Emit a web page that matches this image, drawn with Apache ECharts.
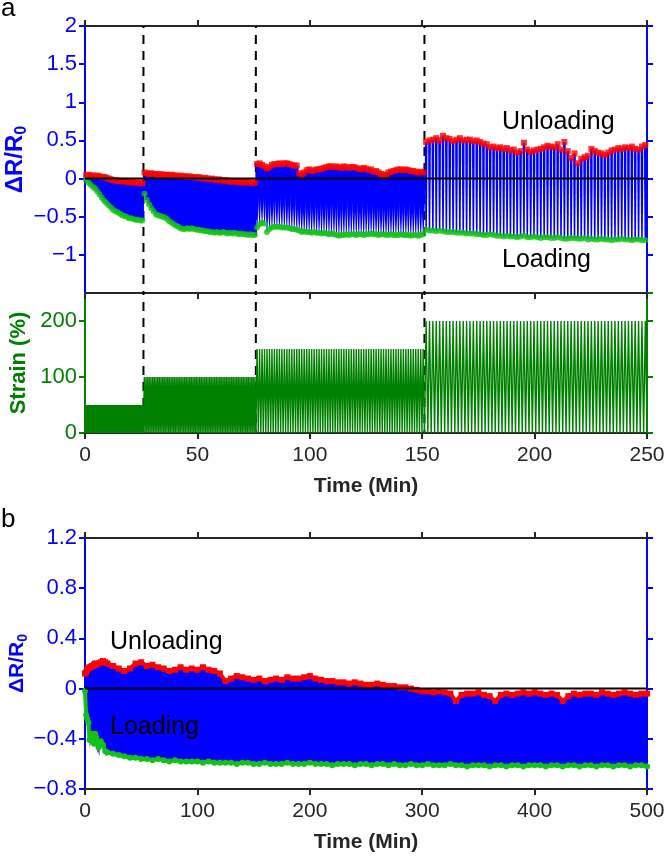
<!DOCTYPE html>
<html>
<head>
<meta charset="utf-8">
<script src="https://cdn.jsdelivr.net/npm/echarts@6/dist/echarts.min.js"></script>
<style>
html, body { margin: 0; padding: 0; background: #fff; }
#main { width: 664px; height: 856px; }
</style>
</head>
<body>
<div id="main"></div>
<script>
// ---- panel a: stages of the cyclic test ----
const stageEdges = [0, 26, 76, 151, 250];      // min
const strainLevels = [50, 100, 150, 200];      // %
const strainCycles = [70, 67, 68, 66];
const stepTimes = [26, 76, 151];

// ΔR/R0 envelopes, one sample per minute (stage 1, 2) or per cycle (stage 3, 4)
const unload1 = [0.04, 0.05, 0.04, 0.04, 0.03, 0.04, 0.03, 0.02, 0.02, 0.01, 0.0, -0.01, -0.02, -0.02, -0.03, -0.03, -0.04, -0.03, -0.04, -0.05, -0.04, -0.05, -0.05, -0.06, -0.05, -0.06];
const load1 = [-0.02, -0.05, -0.08, -0.11, -0.13, -0.17, -0.21, -0.25, -0.29, -0.32, -0.35, -0.38, -0.41, -0.43, -0.44, -0.46, -0.48, -0.49, -0.5, -0.52, -0.52, -0.53, -0.54, -0.54, -0.55, -0.55];
const unload2 = [0.08, 0.07, 0.06, 0.07, 0.06, 0.06, 0.05, 0.06, 0.05, 0.05,
  0.05, 0.04, 0.05, 0.04, 0.04, 0.03, 0.04, 0.03, 0.03, 0.02,
  0.03, 0.02, 0.02, 0.01, 0.02, 0.01, 0.0, 0.01, 0.0, -0.01,
  0.0, -0.01, -0.02, -0.01, -0.02, -0.03, -0.02, -0.03, -0.04, -0.03,
  -0.04, -0.04, -0.05, -0.04, -0.05, -0.05, -0.04, -0.05, -0.06, -0.05];
const load2 = [-0.2, -0.28, -0.34, -0.39, -0.43, -0.47, -0.48, -0.49, -0.5, -0.51,
  -0.53, -0.56, -0.58, -0.6, -0.62, -0.63, -0.65, -0.66, -0.66, -0.65,
  -0.66, -0.65, -0.66, -0.67, -0.67, -0.68, -0.68, -0.69, -0.69, -0.7,
  -0.7, -0.71, -0.7, -0.71, -0.71, -0.7, -0.71, -0.72, -0.71, -0.72,
  -0.71, -0.72, -0.73, -0.72, -0.73, -0.73, -0.74, -0.73, -0.74, -0.74];
const unload3 = [0.19, 0.2, 0.18, 0.16, 0.13, 0.15, 0.18, 0.19, 0.19, 0.2,
  0.19, 0.2, 0.2, 0.19, 0.18, 0.17, 0.17, 0.07, 0.05, 0.08,
  0.11, 0.12, 0.1, 0.11, 0.12, 0.12, 0.13, 0.14, 0.15, 0.16,
  0.16, 0.15, 0.16, 0.15, 0.14, 0.16, 0.15, 0.14, 0.15, 0.15,
  0.14, 0.13, 0.12, 0.14, 0.13, 0.11, 0.12, 0.09, 0.1, 0.08,
  0.06, 0.05, 0.05, 0.08, 0.09, 0.1, 0.11, 0.12, 0.12, 0.11,
  0.12, 0.11, 0.1, 0.1, 0.09, 0.08, 0.09, 0.08];
const load3 = [-0.64, -0.6, -0.58, -0.59, -0.7, -0.66, -0.64, -0.63, -0.63, -0.63,
  -0.64, -0.64, -0.64, -0.65, -0.66, -0.66, -0.67, -0.68, -0.7, -0.69,
  -0.7, -0.7, -0.71, -0.7, -0.71, -0.71, -0.72, -0.71, -0.72, -0.73,
  -0.72, -0.73, -0.74, -0.75, -0.74, -0.74, -0.73, -0.74, -0.73, -0.73,
  -0.74, -0.73, -0.73, -0.74, -0.73, -0.73, -0.72, -0.73, -0.73, -0.74,
  -0.73, -0.73, -0.74, -0.74, -0.73, -0.74, -0.74, -0.74, -0.73, -0.74,
  -0.74, -0.74, -0.75, -0.74, -0.74, -0.75, -0.74, -0.73];
const unload4 = [0.48, 0.5, 0.51, 0.53, 0.5, 0.56, 0.53, 0.52, 0.49, 0.51,
  0.53, 0.5, 0.51, 0.51, 0.49, 0.5, 0.48, 0.46, 0.45, 0.41,
  0.42, 0.4, 0.41, 0.39, 0.4, 0.37, 0.38, 0.34, 0.36, 0.47,
  0.38, 0.35, 0.37, 0.38, 0.39, 0.41, 0.43, 0.42, 0.41, 0.45,
  0.38, 0.48, 0.36, 0.27, 0.33, 0.2, 0.26, 0.28, 0.3, 0.39,
  0.36, 0.34, 0.33, 0.31, 0.34, 0.37, 0.38, 0.4, 0.39, 0.41,
  0.4, 0.42, 0.39, 0.38, 0.42, 0.44];
const load4 = [-0.67, -0.68, -0.68, -0.69, -0.68, -0.69, -0.7, -0.7, -0.7, -0.71,
  -0.71, -0.71, -0.72, -0.72, -0.72, -0.73, -0.73, -0.74, -0.74, -0.73,
  -0.74, -0.75, -0.75, -0.76, -0.75, -0.76, -0.76, -0.77, -0.76, -0.75,
  -0.77, -0.77, -0.76, -0.77, -0.78, -0.77, -0.77, -0.78, -0.78, -0.77,
  -0.78, -0.79, -0.79, -0.78, -0.78, -0.79, -0.79, -0.78, -0.8, -0.79,
  -0.8, -0.8, -0.79, -0.8, -0.8, -0.81, -0.8, -0.8, -0.79, -0.8,
  -0.8, -0.81, -0.8, -0.8, -0.81, -0.81];

// ---- panel b: long test at one strain ----
const timeB = [0, 1, 2, 3, 4, 5, 6, 7, 8, 9, 10, 12, 14, 16, 18, 20,
  25, 30, 35, 40, 45, 50, 55, 60, 65, 70, 75, 80, 85, 90, 95, 100,
  105, 110, 115, 120, 125, 130, 135, 140, 145, 150, 155, 160, 165, 170, 175, 180,
  185, 190, 195, 200, 205, 210, 215, 220, 225, 230, 235, 240, 245, 250, 255, 260,
  265, 270, 275, 280, 285, 290, 295, 300, 305, 310, 315, 320, 325, 330, 335, 340,
  345, 350, 355, 360, 365, 370, 375, 380, 385, 390, 395, 400, 405, 410, 415, 420,
  425, 430, 435, 440, 445, 450, 455, 460, 465, 470, 475, 480, 485, 490, 495, 500];
const unloadB = [0.12, 0.13, 0.15, 0.16, 0.17, 0.17, 0.18, 0.18, 0.19, 0.2, 0.19, 0.2, 0.21, 0.22, 0.21, 0.2,
  0.18, 0.16, 0.14, 0.16, 0.2, 0.21, 0.18, 0.19, 0.17, 0.16, 0.14, 0.15, 0.17, 0.15, 0.16, 0.15,
  0.17, 0.15, 0.14, 0.12, 0.06, 0.08, 0.1, 0.09, 0.08, 0.07, 0.08, 0.06, 0.07, 0.08, 0.07, 0.09,
  0.08, 0.08, 0.09, 0.1, 0.08, 0.07, 0.06, 0.06, 0.05, 0.05, 0.04, 0.05, 0.04, 0.03, 0.03, 0.04,
  0.03, 0.02, 0.02, 0.01, 0.01, 0.0, -0.01, -0.02, -0.02, -0.03, -0.02, -0.03, -0.04, -0.1, -0.05, -0.04,
  -0.04, -0.03, -0.05, -0.06, -0.1, -0.05, -0.04, -0.05, -0.04, -0.03, -0.04, -0.03, -0.04, -0.05, -0.04, -0.05,
  -0.1, -0.06, -0.04, -0.05, -0.04, -0.04, -0.05, -0.03, -0.04, -0.05, -0.04, -0.03, -0.04, -0.05, -0.04, -0.04];
const loadB = [-0.02, -0.21, -0.24, -0.27, -0.41, -0.4, -0.36, -0.37, -0.44, -0.36, -0.39, -0.47, -0.42, -0.45, -0.5, -0.51,
  -0.52, -0.53, -0.54, -0.55, -0.55, -0.56, -0.56, -0.57, -0.56, -0.57, -0.58, -0.57, -0.58, -0.58, -0.58, -0.58,
  -0.59, -0.58, -0.59, -0.59, -0.59, -0.59, -0.6, -0.59, -0.59, -0.6, -0.6, -0.59, -0.6, -0.6, -0.6, -0.59,
  -0.6, -0.6, -0.6, -0.59, -0.6, -0.6, -0.6, -0.61, -0.6, -0.6, -0.6, -0.61, -0.6, -0.6, -0.61, -0.6,
  -0.6, -0.61, -0.6, -0.61, -0.61, -0.6, -0.61, -0.61, -0.6, -0.61, -0.61, -0.61, -0.6, -0.61, -0.61, -0.62,
  -0.61, -0.61, -0.61, -0.62, -0.61, -0.61, -0.62, -0.61, -0.61, -0.62, -0.61, -0.61, -0.61, -0.62, -0.61, -0.61,
  -0.62, -0.61, -0.61, -0.62, -0.61, -0.61, -0.62, -0.61, -0.61, -0.62, -0.61, -0.61, -0.62, -0.61, -0.61, -0.62];

const BLUE = '#0000ff', RED = '#ff0000', LGREEN = '#14c214', DGREEN = '#008000', INK = '#262626';
const FONT = '"Liberation Sans", Arial, Helvetica, sans-serif';

// blue stroke of one sample: width at top, width at the knee, width at bottom
// (as part of the sample spacing) and where the knee sits (0 top .. 1 bottom)
const barShape = [[1, 1, 1, 0.5], [1, 1, 1, 0.5], [1, 1, 0.3, 0.45], [0.78, 0.72, 0.45, 0.4]];

const unloadA = [unload1, unload2, unload3, unload4];
const loadA = [load1, load2, load3, load4];
const rowsA = [];
for (let s = 0; s < 4; s++) {
  const n = unloadA[s].length;
  const step = (stageEdges[s + 1] - stageEdges[s]) / n;
  for (let i = 0; i < n; i++) {
    rowsA.push([stageEdges[s] + (i + 0.5) * step, unloadA[s][i], loadA[s][i], s, step]);
  }
}
const strainRows = strainLevels.map((lv, s) => [stageEdges[s], stageEdges[s + 1], lv, strainCycles[s]]);
const rowsB = [];
for (let i = 0; i < timeB.length - 1; i++) {
  rowsB.push([timeB[i], unloadB[i], loadB[i], timeB[i + 1], unloadB[i + 1], loadB[i + 1]]);
}

function cycleBar(params, api) {
  const t = api.value(0), s = api.value(3), step = api.value(4);
  const top = api.coord([t, api.value(1)]);
  const bot = api.coord([t, api.value(2)]);
  const w = api.size([step, 0])[0];
  const sh = barShape[s];
  const half = f => w * f / 2 + (f === 1 ? 0.5 : 0);
  const wt = half(sh[0]), wm = half(sh[1]), wb = half(sh[2]);
  const x = top[0], ym = top[1] + (bot[1] - top[1]) * sh[3];
  return {
    type: 'polygon',
    shape: { points: [[x - wt, top[1]], [x + wt, top[1]], [x + wm, ym], [x + wb, bot[1]], [x - wb, bot[1]], [x - wm, ym]] },
    style: { fill: BLUE }
  };
}

function bandPiece(params, api) {
  const a = api.coord([api.value(0), api.value(1)]);
  const b = api.coord([api.value(3), api.value(4)]);
  const c = api.coord([api.value(3), api.value(5)]);
  const d = api.coord([api.value(0), api.value(2)]);
  return {
    type: 'polygon',
    shape: { points: [a, b, c, d] },
    style: { fill: BLUE, stroke: BLUE, lineWidth: 2 }
  };
}

function strainWave(params, api) {
  const t0 = api.value(0), t1 = api.value(1), amp = api.value(2), n = api.value(3);
  const T = (t1 - t0) / n;
  const pts = [];
  for (let k = 0; k < n; k++) {
    pts.push(api.coord([t0 + k * T, 0]));
    pts.push(api.coord([t0 + (k + 0.5) * T, amp]));
  }
  pts.push(api.coord([t1, 0]));
  return { type: 'polyline', shape: { points: pts }, style: { stroke: DGREEN, fill: null, lineWidth: 1.4 } };
}

function dashLine(params, api) {
  const x = api.coord([api.value(0), api.value(1)])[0];
  const cs = params.coordSys;
  return {
    type: 'line',
    shape: { x1: x, y1: cs.y, x2: x, y2: cs.y + cs.height },
    style: { stroke: '#000', lineWidth: 2, lineDash: [9, 7], lineDashOffset: 7 }
  };
}

function zeroLine(params, api) {
  const y = api.coord([0, api.value(1)])[1];
  const cs = params.coordSys;
  return { type: 'line', shape: { x1: cs.x, y1: y, x2: cs.x + cs.width, y2: y }, style: { stroke: '#000', lineWidth: 2 } };
}

function fmtTick(v) {
  const s = String(Math.round(v * 100) / 100);
  return s.charAt(0) === '-' ? '\u2212' + s.slice(1) : s;
}

function xAx(grid, max, interval, pos, labels) {
  return {
    type: 'value', gridIndex: grid, position: pos, min: 0, max: max, interval: interval,
    axisLine: { show: true, onZero: false, lineStyle: { color: INK, width: 2 } },
    axisTick: { show: true, inside: false, length: 6, lineStyle: { color: INK, width: 2 } },
    axisLabel: { show: labels, color: INK, fontSize: 21, fontFamily: FONT, margin: 12 },
    splitLine: { show: false },
    name: labels ? 'Time (Min)' : '', nameLocation: 'middle', nameGap: 43, nameMoveOverlap: false,
    nameTextStyle: { color: INK, fontSize: 21, fontWeight: 'bold', fontFamily: FONT }
  };
}

function yAx(grid, min, max, interval, pos, color, name, nameSize, nameGap) {
  return {
    type: 'value', gridIndex: grid, position: pos, min: min, max: max, interval: interval,
    axisLine: { show: true, onZero: false, lineStyle: { color: color, width: 2 } },
    axisTick: { show: true, inside: false, length: 6, lineStyle: { color: color, width: 2 } },
    axisLabel: {
      show: !!name, color: color, fontSize: 22, fontFamily: FONT, margin: 8,
      showMinLabel: grid !== 0, showMaxLabel: grid !== 1,
      formatter: fmtTick
    },
    splitLine: { show: false },
    name: name || '', nameLocation: 'middle', nameGap: nameGap || 50, nameRotate: 90, nameMoveOverlap: false,
    nameTextStyle: {
      color: color, fontSize: nameSize, fontWeight: 'bold', fontFamily: FONT,
      rich: { s: { color: color, fontSize: Math.round(nameSize * 0.68), fontWeight: 'bold', fontFamily: FONT, padding: [Math.round(nameSize * 0.55), 0, 0, 0] } }
    }
  };
}

const chart = echarts.init(document.getElementById('main'), null, { renderer: 'canvas' });

const gridBase = { left: 85, right: 17, containLabel: false, outerBoundsMode: 'none' };

const option = {
  animation: false,
  backgroundColor: '#fff',
  grid: [
    Object.assign({ top: 26, height: 267 }, gridBase),
    Object.assign({ top: 293, height: 140 }, gridBase),
    Object.assign({ top: 538, height: 251 }, gridBase)
  ],
  xAxis: [
    xAx(0, 250, 50, 'bottom', false),
    xAx(0, 250, 50, 'top', false),
    xAx(1, 250, 50, 'bottom', true),
    xAx(2, 500, 100, 'bottom', true),
    xAx(2, 500, 100, 'top', false)
  ],
  yAxis: [
    yAx(0, -1.5, 2, 0.5, 'left', BLUE, 'ΔR/R{s|0}', 24, 55),
    yAx(0, -1.5, 2, 0.5, 'right', BLUE),
    yAx(1, 0, 250, 100, 'left', DGREEN, 'Strain (%)', 22, 55),
    yAx(1, 0, 250, 100, 'right', DGREEN),
    yAx(2, -0.8, 1.2, 0.4, 'left', BLUE, 'ΔR/R{s|0}', 21, 55),
    yAx(2, -0.8, 1.2, 0.4, 'right', BLUE)
  ],
  series: [
    // panel a, top
    { type: 'custom', xAxisIndex: 0, yAxisIndex: 0, z: 1, silent: true, clip: true,
      renderItem: dashLine, data: stepTimes.map(t => [t, 0]) },
    { type: 'custom', xAxisIndex: 0, yAxisIndex: 0, z: 2, silent: true, clip: true,
      renderItem: cycleBar, encode: { x: 0, y: [1, 2] }, data: rowsA },
    { type: 'scatter', xAxisIndex: 0, yAxisIndex: 0, z: 3, silent: true, symbol: 'rect', symbolSize: 6,
      itemStyle: { color: RED }, data: rowsA.map(r => [r[0], r[1]]) },
    { type: 'scatter', xAxisIndex: 0, yAxisIndex: 0, z: 3, silent: true, symbol: 'circle', symbolSize: 6,
      itemStyle: { color: LGREEN }, data: rowsA.map(r => [r[0], r[2]]) },
    { type: 'custom', xAxisIndex: 0, yAxisIndex: 0, z: 4, silent: true,
      renderItem: zeroLine, data: [[0, 0]] },
    // panel a, strain
    { type: 'custom', xAxisIndex: 2, yAxisIndex: 2, z: 1, silent: true, clip: true,
      renderItem: dashLine, data: stepTimes.map(t => [t, 0]) },
    { type: 'custom', xAxisIndex: 2, yAxisIndex: 2, z: 2, silent: true, clip: true,
      renderItem: strainWave, encode: { x: [0, 1], y: 2 }, data: strainRows },
    // panel b
    { type: 'custom', xAxisIndex: 3, yAxisIndex: 4, z: 2, silent: true, clip: true,
      renderItem: bandPiece, encode: { x: [0, 3], y: [1, 2] }, data: rowsB },
    { type: 'line', xAxisIndex: 3, yAxisIndex: 4, z: 3, silent: true, symbol: 'rect', symbolSize: 6, showSymbol: true,
      lineStyle: { color: RED, width: 4 }, itemStyle: { color: RED },
      data: timeB.map((t, i) => [t, unloadB[i]]) },
    { type: 'line', xAxisIndex: 3, yAxisIndex: 4, z: 3, silent: true, symbol: 'circle', symbolSize: 6, showSymbol: true,
      lineStyle: { color: LGREEN, width: 4 }, itemStyle: { color: LGREEN },
      data: timeB.map((t, i) => [t, loadB[i]]) },
    { type: 'custom', xAxisIndex: 3, yAxisIndex: 4, z: 4, silent: true,
      renderItem: zeroLine, data: [[0, 0]] }
  ],
  graphic: {
    elements: [
      { type: 'text', z: 100, x: 1, y: 9, style: { text: 'a', fontSize: 26, fontFamily: FONT, fill: '#000', verticalAlign: 'middle' } },
      { type: 'text', z: 100, x: 1, y: 520, style: { text: 'b', fontSize: 26, fontFamily: FONT, fill: '#000', verticalAlign: 'middle' } },
      { type: 'text', z: 100, x: 502, y: 122, style: { text: 'Unloading', fontSize: 25, fontFamily: FONT, fill: '#000', verticalAlign: 'middle' } },
      { type: 'text', z: 100, x: 502, y: 260, style: { text: 'Loading', fontSize: 25, fontFamily: FONT, fill: '#000', verticalAlign: 'middle' } },
      { type: 'text', z: 100, x: 110, y: 642, style: { text: 'Unloading', fontSize: 25, fontFamily: FONT, fill: '#000', verticalAlign: 'middle' } },
      { type: 'text', z: 100, x: 110, y: 727, style: { text: 'Loading', fontSize: 25, fontFamily: FONT, fill: '#000', verticalAlign: 'middle' } }
    ]
  }
};

chart.setOption(option);
</script>
</body>
</html>
